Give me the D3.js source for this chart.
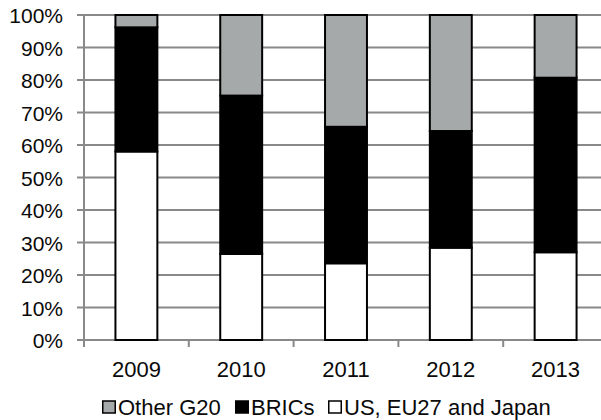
<!DOCTYPE html>
<html>
<head>
<meta charset="utf-8">
<script src="https://cdn.jsdelivr.net/npm/d3@7"></script>
<style>
  html, body { margin: 0; padding: 0; background: #fff; }
  svg { display: block; font-family: "Liberation Sans", Arial, sans-serif; }
</style>
</head>
<body>
<svg id="chart" width="601" height="420"></svg>
<script>
// Share of G20 total by country group, per year (percent)
const years = ["2009", "2010", "2011", "2012", "2013"];
const usEuJapan = [58.0, 26.5, 23.6, 28.4, 27.0];
const brics = [38.2, 48.7, 42.0, 35.9, 53.7];
const otherG20 = [3.8, 24.8, 34.4, 35.7, 19.3];
const yTicks = [0, 10, 20, 30, 40, 50, 60, 70, 80, 90, 100];

const seriesNames = ["US, EU27 and Japan", "BRICs", "Other G20"];
const seriesColors = { "US, EU27 and Japan": "#ffffff", "BRICs": "#000000", "Other G20": "#a6a9a9" };
const legendOrder = ["Other G20", "BRICs", "US, EU27 and Japan"];

const rows = years.map((yr, i) => ({
  year: yr,
  "US, EU27 and Japan": usEuJapan[i],
  "BRICs": brics[i],
  "Other G20": otherG20[i]
}));

const svg = d3.select("#chart");
const plotLeft = 84, plotRight = 608, plotTop = 15, plotBottom = 340;

const x = d3.scaleBand().domain(years).range([plotLeft, plotRight]).paddingInner(0.6).paddingOuter(0.3);
const y = d3.scaleLinear().domain([0, 100]).range([plotBottom, plotTop]);

const gridColor = "#898989";
const textColor = "#0a0a0a";

// Horizontal gridlines
svg.append("g")
  .selectAll("line")
  .data(yTicks)
  .join("line")
  .attr("x1", plotLeft - 7)
  .attr("x2", 601)
  .attr("y1", d => y(d))
  .attr("y2", d => y(d))
  .attr("stroke", gridColor)
  .attr("stroke-width", 2);

// Vertical axis line
svg.append("line")
  .attr("x1", plotLeft).attr("x2", plotLeft)
  .attr("y1", plotTop).attr("y2", plotBottom + 7)
  .attr("stroke", gridColor).attr("stroke-width", 2);

// Category boundary tick marks
const step = x.step();
svg.append("g")
  .selectAll("line")
  .data(d3.range(years.length + 1))
  .join("line")
  .attr("x1", i => plotLeft + i * step)
  .attr("x2", i => plotLeft + i * step)
  .attr("y1", plotBottom)
  .attr("y2", plotBottom + 7)
  .attr("stroke", gridColor)
  .attr("stroke-width", 2);

// Y tick labels
svg.append("g")
  .selectAll("text")
  .data(yTicks)
  .join("text")
  .attr("x", 63)
  .attr("y", d => y(d) + 8)
  .attr("text-anchor", "end")
  .attr("font-size", 21)
  .attr("fill", textColor)
  .text(d => d + "%");

// Stacked bars
const stacked = d3.stack().keys(seriesNames)(rows);
svg.append("g")
  .selectAll("g")
  .data(stacked)
  .join("g")
  .attr("fill", d => seriesColors[d.key])
  .selectAll("rect")
  .data(d => d)
  .join("rect")
  .attr("x", d => x(d.data.year))
  .attr("width", x.bandwidth())
  .attr("y", d => y(d[1]))
  .attr("height", d => y(d[0]) - y(d[1]))
  .attr("stroke", "#000")
  .attr("stroke-width", 2);

// X labels
svg.append("g")
  .selectAll("text")
  .data(years)
  .join("text")
  .attr("x", d => x(d) + x.bandwidth() / 2)
  .attr("y", 377)
  .attr("text-anchor", "middle")
  .attr("font-size", 22)
  .attr("fill", textColor)
  .text(d => d);

// Legend
const legendX = [102, 235, 328];
const legend = svg.append("g")
  .selectAll("g")
  .data(legendOrder)
  .join("g")
  .attr("transform", (d, i) => `translate(${legendX[i]},0)`);
legend.append("rect")
  .attr("x", 0.75).attr("y", 401)
  .attr("width", 12.5).attr("height", 12)
  .attr("fill", d => seriesColors[d])
  .attr("stroke", "#000").attr("stroke-width", 1.5);
legend.append("text")
  .attr("x", 16)
  .attr("y", 415)
  .attr("font-size", 22)
  .attr("fill", textColor)
  .text(d => d);
</script>
</body>
</html>
